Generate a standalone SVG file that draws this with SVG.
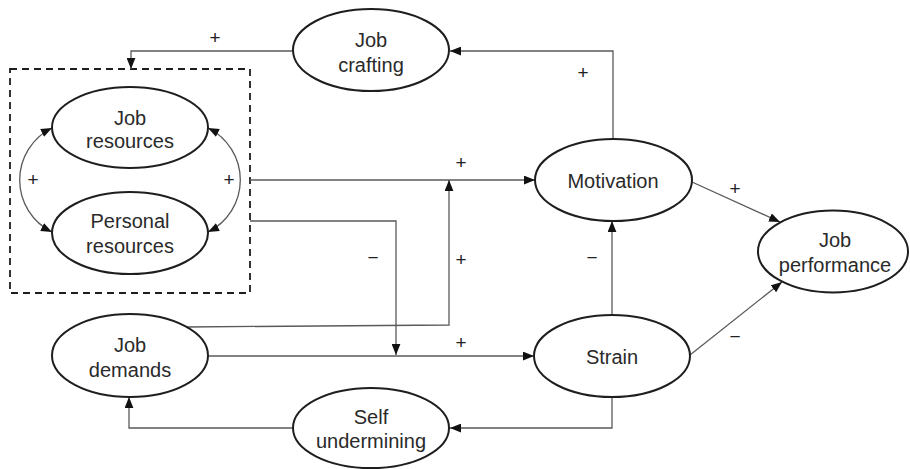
<svg xmlns="http://www.w3.org/2000/svg" width="910" height="469" viewBox="0 0 910 469">
  <style>
    .node ellipse { fill: #ffffff; stroke: #1e1e1e; stroke-width: 2; }
    .node text { font-family: "Liberation Sans", Arial, sans-serif; font-size: 20px; fill: #2a2a2a; text-anchor: middle; }
    .edge { fill: none; stroke: #5a5a5a; stroke-width: 1.3; }
    .sign { font-family: "Liberation Sans", Arial, sans-serif; font-size: 19px; fill: #222222; text-anchor: middle; }
    .group { fill: none; stroke: #1e1e1e; stroke-width: 1.8; stroke-dasharray: 7 5; }
  </style>
  <defs>
    <marker id="arrow" viewBox="0 0 10 8" refX="10" refY="4" markerWidth="11" markerHeight="9" markerUnits="userSpaceOnUse" orient="auto-start-reverse">
      <path d="M0,0 L10,4 L0,8 z" fill="#111"/>
    </marker>
  </defs>
  <rect width="910" height="469" fill="#ffffff"/>

  <!-- resource block -->
  <rect id="resource-block" class="group" x="10" y="69" width="240" height="224"/>

  <g id="connectors">
    <!-- Motivation -> Job crafting -->
    <path class="edge" d="M613,139 V51 H450" marker-end="url(#arrow)"/>
    <!-- Job crafting -> resources -->
    <path class="edge" d="M293,51 H131 V69" marker-end="url(#arrow)"/>
    <!-- resources -> Motivation -->
    <path class="edge" d="M250,180 H535" marker-end="url(#arrow)"/>
    <!-- resources -> demands/strain path -->
    <path class="edge" d="M250,221 H396 V355" marker-end="url(#arrow)"/>
    <!-- Job demands -> motivation path -->
    <path class="edge" d="M186,327 L449,325 V180" marker-end="url(#arrow)"/>
    <!-- Job demands -> Strain -->
    <path class="edge" d="M207,356 H534" marker-end="url(#arrow)"/>
    <!-- Strain -> Self undermining -->
    <path class="edge" d="M612,397 V428 H450" marker-end="url(#arrow)"/>
    <!-- Self undermining -> Job demands -->
    <path class="edge" d="M293,428 H129 V397" marker-end="url(#arrow)"/>
    <!-- Strain -> Motivation -->
    <path class="edge" d="M612,315 V221" marker-end="url(#arrow)"/>
    <!-- Motivation -> Job performance -->
    <path class="edge" d="M692,182 L780,222" marker-end="url(#arrow)"/>
    <!-- Strain -> Job performance -->
    <path class="edge" d="M690,355 L782,282" marker-end="url(#arrow)"/>
    <!-- reciprocal arcs between resources -->
    <path class="edge" d="M52,128 A58 58 0 0 0 52,232" marker-start="url(#arrow)" marker-end="url(#arrow)"/>
    <path class="edge" d="M208,128 A58 58 0 0 1 208,232" marker-start="url(#arrow)" marker-end="url(#arrow)"/>
  </g>

  <g id="signs">
    <text class="sign" x="215" y="44">+</text>
    <text class="sign" x="583" y="79">+</text>
    <text class="sign" x="33" y="186">+</text>
    <text class="sign" x="229" y="186">+</text>
    <text class="sign" x="461" y="169">+</text>
    <text class="sign" x="373" y="264">−</text>
    <text class="sign" x="461" y="266">+</text>
    <text class="sign" x="592" y="264">−</text>
    <text class="sign" x="735" y="195">+</text>
    <text class="sign" x="461" y="349">+</text>
    <text class="sign" x="735" y="343">−</text>
  </g>

  <g id="job-crafting" class="node">
    <ellipse cx="371" cy="50" rx="78" ry="41"/>
    <text x="371" y="47">Job</text>
    <text x="371" y="72">crafting</text>
  </g>
  <g id="job-resources" class="node">
    <ellipse cx="130" cy="127.5" rx="78" ry="40.5"/>
    <text x="130" y="125">Job</text>
    <text x="130" y="148">resources</text>
  </g>
  <g id="personal-resources" class="node">
    <ellipse cx="130" cy="233" rx="78" ry="41"/>
    <text x="130" y="228">Personal</text>
    <text x="130" y="253">resources</text>
  </g>
  <g id="job-demands" class="node">
    <ellipse cx="130" cy="355.5" rx="78" ry="41.5"/>
    <text x="130" y="352">Job</text>
    <text x="130" y="377">demands</text>
  </g>
  <g id="self-undermining" class="node">
    <ellipse cx="371" cy="428" rx="78" ry="40"/>
    <text x="371" y="424">Self</text>
    <text x="371" y="448">undermining</text>
  </g>
  <g id="motivation" class="node">
    <ellipse cx="613.5" cy="180" rx="78.5" ry="41"/>
    <text x="613" y="188">Motivation</text>
  </g>
  <g id="strain" class="node">
    <ellipse cx="612" cy="356" rx="78" ry="41"/>
    <text x="612" y="364">Strain</text>
  </g>
  <g id="job-performance" class="node">
    <ellipse cx="833" cy="251.5" rx="75" ry="41"/>
    <text x="835" y="247">Job</text>
    <text x="835" y="272">performance</text>
  </g>
</svg>
